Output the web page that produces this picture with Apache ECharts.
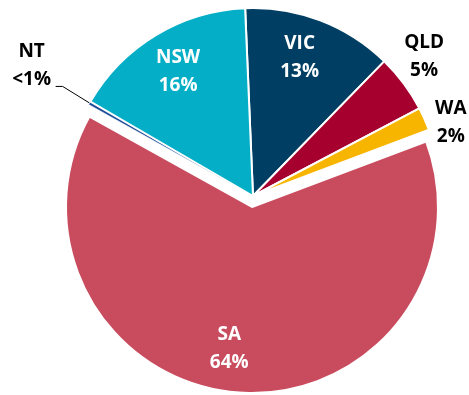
<!DOCTYPE html>
<html>
<head>
<meta charset="utf-8">
<script src="https://cdn.jsdelivr.net/npm/echarts@6/dist/echarts.min.js"></script>
<style>
  html, body { margin: 0; padding: 0; background: #ffffff; }
  #chart { width: 469px; height: 395px; }
</style>
</head>
<body>
<div id="chart"></div>
<script>
// Share of total by state, clockwise from the top
const states = ['VIC', 'QLD', 'WA', 'SA', 'NT', 'NSW'];
const shares = [13, 5, 2, 64, 0.3, 16];
const shareLabels = ['13%', '5%', '2%', '64%', '<1%', '16%'];

// Styling
const colors = ['#003F63', '#A6002E', '#F8B500', '#C94C5E', '#1F4E9A', '#04AEC6'];
const labelInk = ['#ffffff', '#000000', '#000000', '#ffffff', '#000000', '#ffffff'];
// label placement: [distance from pie centre, angular nudge in degrees]
const labelPlace = [[146, -2.3], [221, -2.5], [211, 3.8], [143, 4.9], [257, 0.9], [145, 0]];
const exploded = 'SA';
const pie = { cx: 253, cy: 196, r: 188 };
const pieOut = { cx: 252, cy: 207, r: 186 };
const startAngle = 92.4;           // ECharts convention: degrees anticlockwise from 3 o'clock

// mid angle of each slice, measured clockwise from 12 o'clock
const total = shares.reduce((a, b) => a + b, 0);
const midAngles = [];
{
  let acc = 90 - startAngle;
  shares.forEach(v => {
    const span = v / total * 360;
    midAngles.push(acc + span / 2);
    acc += span;
  });
}
function polar(c, dist, deg) {
  const a = deg * Math.PI / 180;
  return [c.cx + dist * Math.sin(a), c.cy - dist * Math.cos(a)];
}

function buildSeries(forExploded) {
  const c = forExploded ? pieOut : pie;
  return {
    type: 'pie',
    center: [c.cx, c.cy],
    radius: c.r,
    startAngle: startAngle,
    clockwise: true,
    avoidLabelOverlap: false,
    silent: true,
    animation: false,
    data: states.map((s, i) => {
      const own = (s === exploded) === forExploded;
      return {
        name: s,
        value: shares[i],
        itemStyle: own
          ? { color: colors[i], borderColor: '#ffffff', borderWidth: s === 'NT' ? 0.5 : 2 }
          : { color: 'rgba(0,0,0,0)', borderWidth: 0 },
        label: {
          show: own,
          position: s === 'NT' ? 'outside' : 'inside',
          formatter: s + '\n' + shareLabels[i],
          color: labelInk[i],
          fontFamily: 'Open Sans',
          fontWeight: 'bold',
          fontSize: 19,
          lineHeight: 28
        },
        labelLine: {
          show: own && s === 'NT',
          lineStyle: { color: '#000000', width: 1 }
        }
      };
    }),
    labelLayout: function (p) {
      const i = p.dataIndex;
      const [dist, nudge] = labelPlace[i];
      const [x, y] = polar(c, dist, midAngles[i] + nudge);
      const out = { x: x, y: y, align: 'center', verticalAlign: 'middle' };
      if (states[i] === 'NT') {
        const edge = polar(c, c.r, midAngles[i]);
        out.labelLinePoints = [edge, [x + 31, y + 21], [x + 24, y + 21]];
      }
      return out;
    }
  };
}

const chart = echarts.init(document.getElementById('chart'), null, { renderer: 'canvas' });
chart.setOption({
  backgroundColor: '#ffffff',
  animation: false,
  series: [buildSeries(false), buildSeries(true)]
});
</script>
</body>
</html>
